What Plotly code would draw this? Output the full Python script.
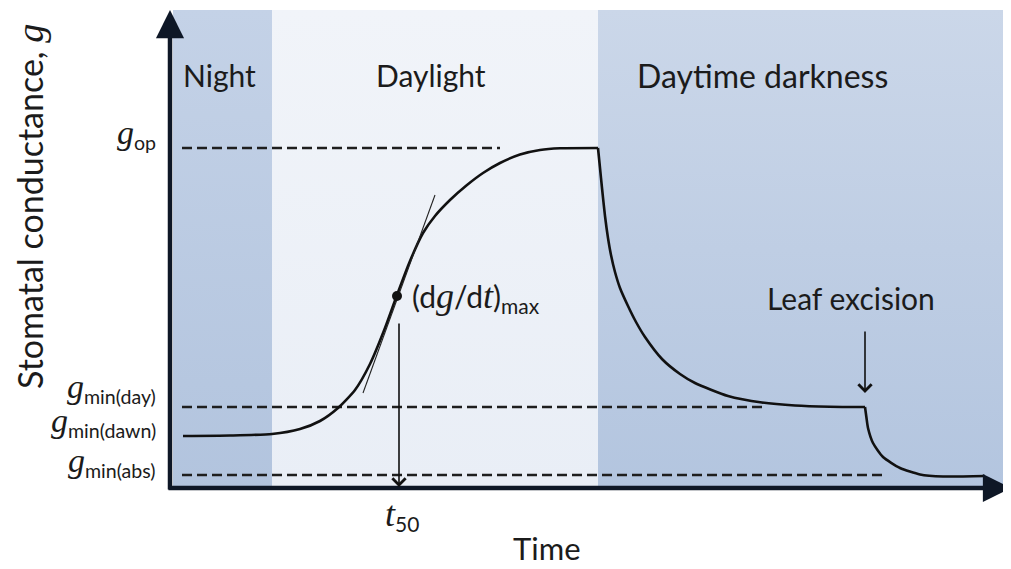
import plotly.graph_objects as go

# ---------------- data (time units, conductance units) ----------------
band_names = ["Night", "Daylight", "Daytime darkness"]
band_start = [3, 102, 428]
band_end = [102, 428, 838]
band_top = 478
band_colors_bottom = ["#b2c4de", "#e9eef6", "#b3c5df"]
band_colors_top = ["#c4d2e7", "#f1f4f9", "#cbd7e9"]
band_label_t = [49, 261, 592]
band_label_size = [30, 30, 32]
band_label_g = 413

rise_t = [13, 60, 102, 130, 150, 168, 185, 200, 215, 227, 240, 253, 265, 280, 297, 313, 330, 350, 370, 390, 428]
rise_g = [52, 52.5, 54, 59, 67, 80, 98, 124, 160, 193, 227, 255, 272, 288, 303, 315, 325, 333.5, 338, 339.7, 340]

dark_t = [428, 430, 432, 435, 438, 441, 445, 450, 458, 466, 475, 492, 510, 525, 558, 592, 625, 660, 695]
dark_g = [340, 320, 300, 272, 250, 233, 216, 200, 182, 166, 151, 129, 114, 105, 92, 85.5, 82.5, 81.3, 81]

excise_t = [695, 696.5, 698, 703, 713, 730, 750, 773, 815]
excise_g = [81, 70, 60, 45, 31, 20, 13.5, 11.5, 12]

ref_labels = ["op", "min(day)", "min(dawn)", "min(abs)"]
ref_label_g = [354, 100, 66, 26]
ref_levels = [340, 81, 13]
ref_start = 12
ref_end = [330, 595, 712]

inflect_t, inflect_g = 227, 192
tangent_t = [193, 265]
tangent_g = [95, 293]
t50_arrow_from = 166
excision_t = 695
excision_arrow = [158, 95]

x_max, y_max = 841, 478

SERIF = "font-family:'Liberation Serif';font-style:italic"
TXT = "#1b1b1b"


def px(t):
    return t / x_max


def py(g):
    return g / y_max


fig = go.Figure()

# background bands
for x0, x1, cb, ct in zip(band_start, band_end, band_colors_bottom, band_colors_top):
    fig.add_trace(go.Scatter(
        x=[x0, x1, x1, x0, x0], y=[0, 0, band_top, band_top, 0],
        mode="lines", fill="toself", line=dict(width=0),
        fillgradient=dict(type="vertical", colorscale=[[0, cb], [1, ct]]),
        hoverinfo="skip", showlegend=False))

# dashed reference lines
for lvl, x1 in zip(ref_levels, ref_end):
    fig.add_trace(go.Scatter(
        x=[ref_start, x1], y=[lvl, lvl], mode="lines",
        line=dict(color="#1e1e1e", width=2.7, dash="10px,5px"),
        hoverinfo="skip", showlegend=False))

# curves
for xs, ys in [(rise_t, rise_g), (dark_t, dark_g), (excise_t, excise_g)]:
    fig.add_trace(go.Scatter(
        x=xs, y=ys, mode="lines",
        line=dict(color="#111111", width=2.6, shape="spline", smoothing=0.6),
        hoverinfo="skip", showlegend=False))

# tangent at max slope
fig.add_trace(go.Scatter(x=tangent_t, y=tangent_g, mode="lines",
                         line=dict(color="#222222", width=1.1),
                         hoverinfo="skip", showlegend=False))
fig.add_trace(go.Scatter(x=[inflect_t], y=[inflect_g], mode="markers",
                         marker=dict(color="#111111", size=10),
                         hoverinfo="skip", showlegend=False))

ann = []
# axes with arrowheads
ann.append(dict(x=0, y=y_max, ax=0, ay=-3, xref="x", yref="y", axref="x", ayref="y",
                text="", showarrow=True, arrowhead=2, arrowsize=1.25, arrowwidth=4.5,
                arrowcolor="#0e1726"))
ann.append(dict(x=x_max, y=0, ax=-3, ay=0, xref="x", yref="y", axref="x", ayref="y",
                text="", showarrow=True, arrowhead=2, arrowsize=1.25, arrowwidth=4.5,
                arrowcolor="#0e1726"))
# t50 arrow
ann.append(dict(x=inflect_t + 2, y=1, ax=inflect_t + 2, ay=t50_arrow_from, xref="x", yref="y",
                axref="x", ayref="y", text="", showarrow=True, arrowhead=4, arrowsize=1.6,
                arrowwidth=1.6, arrowcolor="#111111"))
# leaf excision arrow
ann.append(dict(x=excision_t, y=excision_arrow[1], ax=excision_t, ay=excision_arrow[0],
                xref="x", yref="y", axref="x", ayref="y", text="", showarrow=True,
                arrowhead=4, arrowsize=1.6, arrowwidth=1.6, arrowcolor="#111111"))

# band labels
for name, t, s in zip(band_names, band_label_t, band_label_size):
    ann.append(dict(x=t, y=band_label_g, xref="x", yref="y", text=name, showarrow=False,
                    font=dict(family="Lato", size=s, color=TXT)))

ann.append(dict(x=681, y=190, xref="x", yref="y", text="Leaf excision", showarrow=False,
                font=dict(family="Lato", size=30, color=TXT)))
ann.append(dict(x=240, y=191, xref="x", yref="y", xanchor="left",
                text=(f"(d<span style=\"{SERIF};font-size:36px\">g</span>/d"
                      f"<span style=\"{SERIF};font-size:36px\">t</span>)<sub>max</sub>"),
                showarrow=False, font=dict(family="Lato", size=30, color=TXT)))

# reference level labels (in margin -> paper coords)
for lab, g in zip(ref_labels, ref_label_g):
    ann.append(dict(x=px(-12), y=py(g), xref="paper", yref="paper",
                    xanchor="right", yanchor="middle",
                    text=f"<span style=\"{SERIF};font-size:34px\">g</span><sub>{lab}</sub>",
                    showarrow=False, font=dict(family="Lato", size=28, color=TXT)))

# axis titles
ann.append(dict(x=px(-140), y=py(281), xref="paper", yref="paper", textangle=-90,
                xanchor="center", yanchor="middle",
                text=f"Stomatal conductance, <span style=\"{SERIF};font-size:38px\">g</span>",
                showarrow=False, font=dict(family="Lato", size=34, color=TXT)))
ann.append(dict(x=px(377), y=py(-60), xref="paper", yref="paper",
                xanchor="center", yanchor="middle", text="Time", showarrow=False,
                font=dict(family="Lato", size=31, color=TXT)))
ann.append(dict(x=px(232), y=py(-27), xref="paper", yref="paper",
                xanchor="center", yanchor="middle",
                text=f"<span style=\"{SERIF};font-size:36px\">t</span><sub>50</sub>",
                showarrow=False, font=dict(family="Lato", size=30, color=TXT)))

# page body has an 8px margin: shift the figure so the plot lands where the reference has it
fig.update_layout(
    width=1003, height=561,
    margin=dict(l=162, r=0, t=2, b=81),
    paper_bgcolor="white", plot_bgcolor="white",
    xaxis=dict(range=[0, x_max], visible=False, fixedrange=True),
    yaxis=dict(range=[0, y_max], visible=False, fixedrange=True),
    annotations=ann, showlegend=False,
)

fig.write_html("out.html")
